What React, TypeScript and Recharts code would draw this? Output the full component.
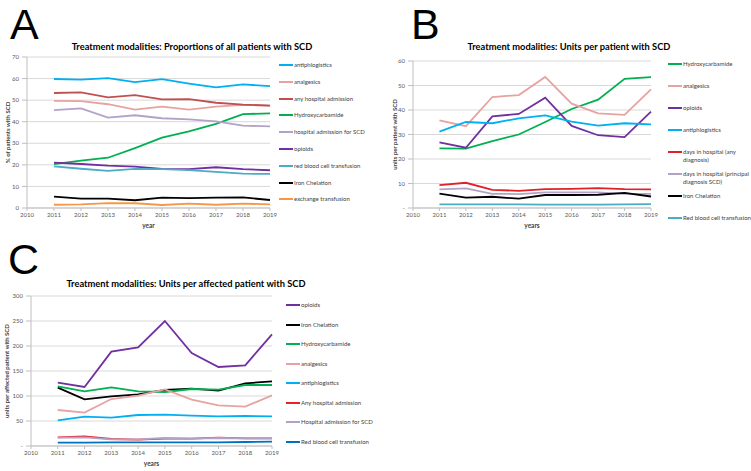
import React from 'react';
import { LineChart, Line, XAxis, YAxis, CartesianGrid } from 'recharts';

const years = [2011, 2012, 2013, 2014, 2015, 2016, 2017, 2018, 2019];
const yearTicks = [2010, 2011, 2012, 2013, 2014, 2015, 2016, 2017, 2018, 2019];

// A: proportions of all patients with SCD (%)
const aAntiphlogistics = [59.8, 59.5, 60.2, 58.4, 59.7, 57.7, 55.9, 57.3, 56.5];
const aAnalgesics = [49.7, 49.5, 48.1, 45.6, 47.0, 45.6, 47.0, 47.8, 47.5];
const aAnyAdmission = [53.3, 53.6, 51.3, 52.3, 50.4, 50.5, 48.8, 47.9, 47.5];
const aHydroxycarbamide = [20.3, 22.0, 23.3, 27.8, 32.6, 35.5, 39.0, 43.5, 43.9];
const aScdAdmission = [45.4, 46.2, 41.9, 43.0, 41.6, 41.1, 40.2, 38.2, 37.8];
const aOpioids = [21.0, 20.4, 19.6, 19.2, 18.1, 18.0, 18.9, 18.0, 17.5];
const aRbc = [19.3, 18.2, 17.2, 18.1, 18.0, 17.6, 16.7, 15.9, 15.8];
const aIron = [5.3, 4.3, 4.3, 3.6, 4.8, 4.6, 4.8, 4.9, 3.7];
const aExchange = [1.5, 1.7, 2.3, 2.2, 1.4, 2.0, 1.5, 2.0, 1.7];

// B: units per patient with SCD
const bHydroxycarbamide = [24.3, 24.2, 27.3, 30.0, 35.1, 40.4, 44.2, 52.7, 53.4];
const bAnalgesics = [35.8, 33.4, 45.3, 46.1, 53.5, 42.6, 38.6, 38.0, 48.4];
const bOpioids = [26.8, 24.6, 37.4, 38.4, 45.0, 33.5, 29.7, 28.9, 39.3];
const bAntiphlogistics = [31.2, 35.1, 34.6, 36.6, 37.8, 35.3, 33.6, 34.6, 34.1];
const bDaysAny = [9.3, 10.3, 7.4, 7.0, 7.7, 7.8, 8.1, 7.7, 7.6];
const bDaysScd = [7.6, 8.0, 5.8, 5.7, 6.4, 6.4, 6.4, 5.8, 5.8];
const bIron = [5.9, 4.2, 4.6, 3.8, 5.3, 5.3, 5.4, 6.2, 4.7];
const bRbc = [1.5, 1.5, 1.5, 1.5, 1.4, 1.4, 1.4, 1.5, 1.6];

// C: units per affected patient with SCD
const cOpioids = [126.7, 118, 188.7, 197.3, 250, 186, 158, 161.3, 223.3];
const cIron = [116.7, 93.3, 99.3, 103.3, 112, 114.7, 110.7, 125.3, 129.3];
const cHydroxycarbamide = [119.3, 109.3, 117.3, 109.3, 108, 114, 112.7, 122, 122];
const cAnalgesics = [72, 66.7, 94, 100.7, 113.3, 92.7, 81.3, 78.7, 101.3];
const cAntiphlogistics = [51.3, 58.7, 56.7, 62, 62.7, 60.7, 59.3, 60, 59.3];
const cAnyAdmission = [17.3, 19.3, 14, 12.7, 14.7, 14.7, 16.7, 15.3, 15.3];
const cScdAdmission = [16.7, 17.3, 13.3, 13.3, 16, 14.7, 16, 15.3, 15.3];
const cRbc = [6.7, 6.7, 7.3, 7.3, 7.3, 7.3, 7.3, 8, 8.7];

type Series = { key: string; name: string; color: string; values: number[] };

const seriesA: Series[] = [
  { key: 'antiphlogistics', name: 'antiphlogistics', color: '#00B0F0', values: aAntiphlogistics },
  { key: 'analgesics', name: 'analgesics', color: '#E6A3A1', values: aAnalgesics },
  { key: 'anyAdmission', name: 'any hospital admission', color: '#C0504D', values: aAnyAdmission },
  { key: 'hydroxycarbamide', name: 'Hydroxycarbamide', color: '#00B050', values: aHydroxycarbamide },
  { key: 'scdAdmission', name: 'hospital admission for SCD', color: '#B3A2C7', values: aScdAdmission },
  { key: 'opioids', name: 'opioids', color: '#7030A0', values: aOpioids },
  { key: 'rbc', name: 'red blood cell transfusion', color: '#4BACC6', values: aRbc },
  { key: 'iron', name: 'Iron Chelation', color: '#000000', values: aIron },
  { key: 'exchange', name: 'exchange transfusion', color: '#F79646', values: aExchange },
];

const seriesB: Series[] = [
  { key: 'hydroxycarbamide', name: 'Hydroxycarbamide', color: '#00B050', values: bHydroxycarbamide },
  { key: 'analgesics', name: 'analgesics', color: '#E6A3A1', values: bAnalgesics },
  { key: 'opioids', name: 'opioids', color: '#7030A0', values: bOpioids },
  { key: 'antiphlogistics', name: 'antiphlogistics', color: '#00B0F0', values: bAntiphlogistics },
  { key: 'daysAny', name: 'days in hospital (any\ndiagnosis)', color: '#E3202A', values: bDaysAny },
  { key: 'daysScd', name: 'days in hospital (principal\ndiagnosis SCD)', color: '#B3A2C7', values: bDaysScd },
  { key: 'iron', name: 'Iron Chelation', color: '#000000', values: bIron },
  { key: 'rbc', name: 'Red blood cell transfusion', color: '#4BACC6', values: bRbc },
];

const seriesC: Series[] = [
  { key: 'opioids', name: 'opioids', color: '#7030A0', values: cOpioids },
  { key: 'iron', name: 'Iron Chelation', color: '#000000', values: cIron },
  { key: 'hydroxycarbamide', name: 'Hydroxycarbamide', color: '#00B050', values: cHydroxycarbamide },
  { key: 'analgesics', name: 'analgesics', color: '#E6A3A1', values: cAnalgesics },
  { key: 'antiphlogistics', name: 'antiphlogistics', color: '#00B0F0', values: cAntiphlogistics },
  { key: 'anyAdmission', name: 'Any hospital admission', color: '#E8212B', values: cAnyAdmission },
  { key: 'scdAdmission', name: 'Hospital admission for SCD', color: '#B3A2C7', values: cScdAdmission },
  { key: 'rbc', name: 'Red blood cell transfusion', color: '#0070C0', values: cRbc },
];

const FONT = 'Lato, "Open Sans", sans-serif';
const TICK = { fontSize: 6, fill: '#595959', fontFamily: FONT };

const toRows = (series: Series[]) =>
  years.map((year, i) => {
    const row: Record<string, number> = { year };
    series.forEach((s) => {
      row[s.key] = s.values[i];
    });
    return row;
  });

const zeroDash = (v: number) => (v === 0 ? '-' : String(v));

interface PanelProps {
  series: Series[];
  left: number;
  top: number;
  width: number;
  height: number;
  margin: { top: number; right: number; bottom: number; left: number };
  yWidth: number;
  yMax: number;
  yStep: number;
  yLabel: string;
  yLabelOffset: number;
  xLabel: string;
  dashZero?: boolean;
}

const Panel: React.FC<PanelProps> = ({ series, left, top, width, height, margin, yWidth, yMax, yStep, yLabel, yLabelOffset, xLabel, dashZero }) => {
  const yTicks: number[] = [];
  for (let v = 0; v <= yMax; v += yStep) yTicks.push(v);
  return (
    <div style={{ position: 'absolute', left, top }}>
      <LineChart width={width} height={height} data={toRows(series)} margin={margin}>
        <CartesianGrid vertical={false} stroke="#D9D9D9" />
        <XAxis
          dataKey="year"
          type="number"
          domain={[2010, 2019]}
          ticks={yearTicks}
          interval={0}
          tick={TICK}
          tickSize={3}
          tickMargin={2}
          stroke="#BFBFBF"
          height={20}
          label={{ value: xLabel, position: 'insideBottom', offset: 0, style: { fontSize: 6.5, fontWeight: 700, fill: '#404040', fontFamily: FONT } }}
        />
        <YAxis
          type="number"
          domain={[0, yMax]}
          ticks={yTicks}
          interval={0}
          width={yWidth}
          tick={TICK}
          tickSize={5}
          tickMargin={3}
          stroke="#BFBFBF"
          tickFormatter={dashZero ? zeroDash : undefined}
          label={{ value: yLabel, angle: -90, position: 'insideLeft', offset: yLabelOffset, style: { textAnchor: 'middle', fontSize: 6, fontWeight: 700, fill: '#404040', fontFamily: FONT } }}
        />
        {series.map((s) => (
          <Line key={s.key} type="linear" dataKey={s.key} name={s.name} stroke={s.color} strokeWidth={1.8} dot={false} activeDot={false} isAnimationActive={false} />
        ))}
      </LineChart>
    </div>
  );
};

const LegendList: React.FC<{ series: Series[]; left: number; top: number; step: number }> = ({ series, left, top, step }) => (
  <div style={{ position: 'absolute', left, top: 0, fontFamily: FONT }}>
    {series.map((s, i) => (
      <div key={s.key} style={{ position: 'absolute', left: 0, top: top + i * step - 4, display: 'flex', alignItems: 'flex-start' }}>
        <div style={{ width: 14, height: 2, background: s.color, marginTop: 3 }} />
        <div style={{ fontSize: 6, lineHeight: '8px', color: '#404040', whiteSpace: 'pre', marginLeft: 1 }}>{s.name}</div>
      </div>
    ))}
  </div>
);

const titleStyle: React.CSSProperties = {
  position: 'absolute',
  fontFamily: FONT,
  fontWeight: 700,
  fontSize: 9.3,
  color: '#000',
  whiteSpace: 'nowrap',
  transform: 'translate(-50%, -50%)',
};

const letterStyle: React.CSSProperties = {
  position: 'absolute',
  fontFamily: '"Liberation Sans", Arial, sans-serif',
  fontSize: 43,
  lineHeight: 'normal',
  color: '#000',
};

export default function App() {
  return (
    <div style={{ position: 'absolute', left: 0, top: 0, width: 751, height: 471, background: '#fff', overflow: 'hidden' }}>
      <div style={{ ...letterStyle, left: 10, top: 0 }}>A</div>
      <div style={{ ...letterStyle, left: 411, top: 0 }}>B</div>
      <div style={{ ...letterStyle, left: 8, top: 235 }}>C</div>

      <div style={{ ...titleStyle, left: 192, top: 46 }}>Treatment modalities: Proportions of all patients with SCD</div>
      <div style={{ ...titleStyle, left: 569, top: 46 }}>Treatment modalities: Units per patient with SCD</div>
      <div style={{ ...titleStyle, left: 186, top: 283 }}>Treatment modalities: Units per affected patient with SCD</div>

      <Panel
        series={seriesA}
        left={0}
        top={40}
        width={370}
        height={200}
        margin={{ top: 17, right: 100, bottom: 12, left: 0 }}
        yWidth={27}
        yMax={70}
        yStep={10}
        yLabel="% of patients with SCD"
        yLabelOffset={8}
        xLabel="year"
      />
      <LegendList series={seriesA} left={279} top={65} step={16.8} />

      <Panel
        series={seriesB}
        left={380}
        top={40}
        width={300}
        height={200}
        margin={{ top: 21, right: 29, bottom: 12, left: 0 }}
        yWidth={33}
        yMax={60}
        yStep={10}
        yLabel="units per patient with SCD"
        yLabelOffset={15}
        xLabel="years"
        dashZero
      />
      <LegendList series={seriesB} left={668} top={64} step={21.95} />

      <Panel
        series={seriesC}
        left={0}
        top={280}
        width={300}
        height={191}
        margin={{ top: 16, right: 28, bottom: 5, left: 0 }}
        yWidth={31}
        yMax={300}
        yStep={50}
        yLabel="units per affected patient with SCD"
        yLabelOffset={7}
        xLabel="years"
        dashZero
      />
      <LegendList series={seriesC} left={286} top={305} step={19.5} />
    </div>
  );
}
